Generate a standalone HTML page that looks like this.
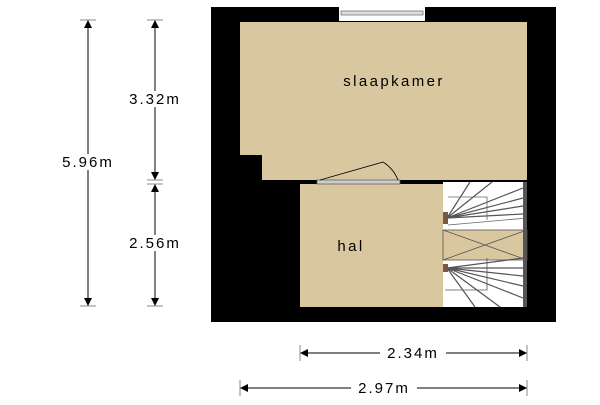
<!DOCTYPE html>
<html><head><style>
body{margin:0;background:#fff;width:600px;height:400px;overflow:hidden}
</style></head><body>
<svg width="600" height="400" xmlns="http://www.w3.org/2000/svg" font-family="Liberation Sans, sans-serif">
<defs>
<marker id="a" viewBox="0 0 10 10" refX="10" refY="5" markerWidth="8" markerHeight="8" orient="auto-start-reverse"><path d="M0,0L10,5L0,10z" fill="#000"/></marker>
</defs>
<rect x="211" y="7" width="345" height="315" fill="#000"/>
<path d="M240,22H527V180H262V155H240Z" fill="#d9c89f"/>
<rect x="339" y="7" width="86" height="14" fill="#fff"/>
<rect x="341" y="11" width="82" height="4" fill="#ddd" stroke="#666" stroke-width="0.7"/>
<rect x="300" y="184" width="143" height="123" fill="#d9c89f"/>
<rect x="317" y="180" width="83" height="4" fill="#ccc" stroke="#555" stroke-width="0.7"/>
<path d="M320,180L383,162A38,38 0 0 1 398,180" fill="none" stroke="#000" stroke-width="0.8"/>
<rect x="443" y="182" width="84" height="125" fill="#fff"/>
<rect x="443" y="230" width="84" height="30" fill="#d9c89f" stroke="#555" stroke-width="0.8"/>
<path d="M443,230L527,260M443,260L527,230" stroke="#555" stroke-width="0.8"/>
<rect x="443" y="212" width="5" height="12" fill="#7a5a40"/>
<rect x="443" y="264" width="5" height="8" fill="#7a5a40"/>
<g stroke="#555" stroke-width="1.2">
<path d="M447,218L470,182M447,218L492,182M447,218L523,188M447,218L523,198M447,218L523,206M447,218L523,214"/>
<path d="M447,268L523,258M447,268L523,268M447,268L523,276M447,268L523,286M447,268L523,298M447,268L500,307M447,268L475,307"/>
</g>
<path d="M448,197H487V220M448,225L527,218" fill="none" stroke="#666" stroke-width="0.8"/>
<path d="M487,258V290H445" fill="none" stroke="#555" stroke-width="0.8"/>
<rect x="523" y="182" width="4" height="125" fill="#555"/>
<g font-size="15" letter-spacing="2.4" text-anchor="middle">
<text x="394" y="86">slaapkamer</text>
<text x="351" y="251">hal</text>
</g>
<g stroke="#000" stroke-width="1" fill="none">
<line x1="88" y1="20" x2="88" y2="306" marker-start="url(#a)" marker-end="url(#a)"/>
<line x1="155" y1="20" x2="155" y2="180" marker-start="url(#a)" marker-end="url(#a)"/>
<line x1="155" y1="184" x2="155" y2="306" marker-start="url(#a)" marker-end="url(#a)"/>
<line x1="300" y1="353" x2="527" y2="353" marker-start="url(#a)" marker-end="url(#a)"/>
<line x1="240" y1="388" x2="527" y2="388" marker-start="url(#a)" marker-end="url(#a)"/>
<path d="M80,20H96M80,306H96M147,20H163M147,180H163M147,184H163M147,306H163M300,345V361M527,345V361M240,380V396M527,380V396" stroke="#888"/>
</g>
<g font-size="15" letter-spacing="2" text-anchor="middle">
<rect x="55" y="154" width="66" height="16" fill="#fff"/><text x="88" y="167">5.96m</text>
<rect x="122" y="91" width="66" height="16" fill="#fff"/><text x="155" y="104">3.32m</text>
<rect x="122" y="235" width="66" height="16" fill="#fff"/><text x="155" y="248">2.56m</text>
<rect x="380" y="345" width="66" height="16" fill="#fff"/><text x="413" y="358">2.34m</text>
<rect x="351" y="380" width="66" height="16" fill="#fff"/><text x="384" y="393">2.97m</text>
</g>
</svg>
</body></html>
